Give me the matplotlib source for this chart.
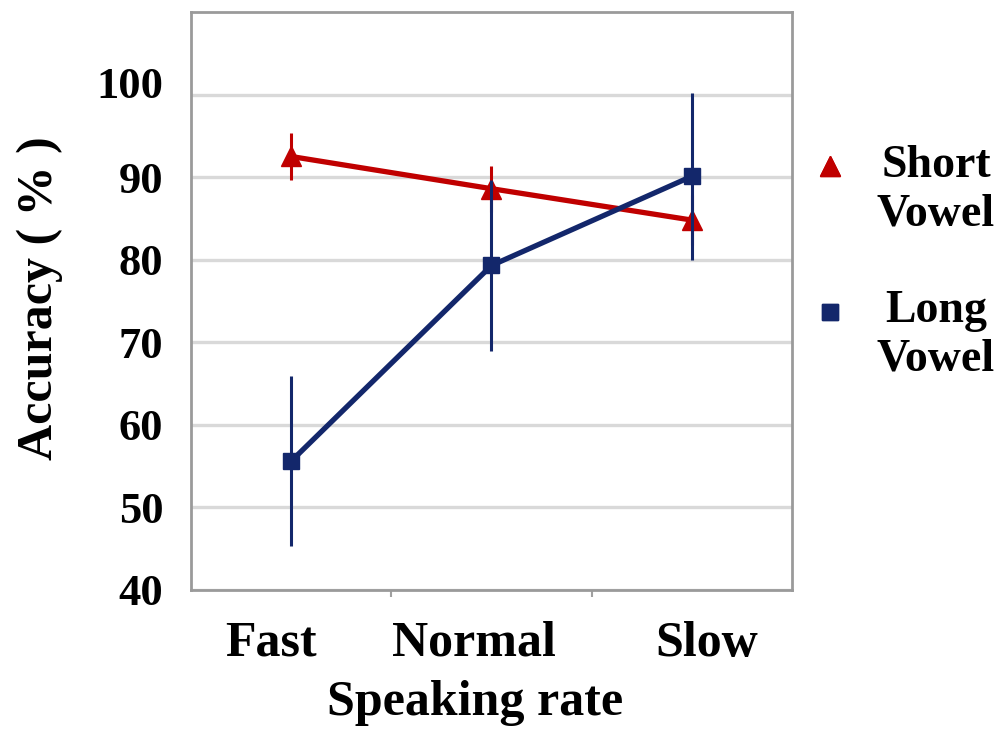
import matplotlib
matplotlib.use('Agg')
import matplotlib.pyplot as plt
from matplotlib.lines import Line2D
from matplotlib.transforms import ScaledTranslation

# data
rates = ['Fast', 'Normal', 'Slow']
short_mean = [92.5, 88.6, 84.8]
short_err = [2.8, 2.8, 3.0]
long_mean = [55.6, 79.3, 90.1]
long_err = [10.3, 10.3, 10.1]
yticks = [40, 50, 60, 70, 80, 90, 100]
legend_labels = ['Short\nVowel', 'Long\nVowel']

red = '#C00000'
navy = '#13276B'
serif = ['Liberation Serif', 'DejaVu Serif']

plt.rcParams['font.family'] = serif
plt.rcParams['font.weight'] = 'bold'

fig = plt.figure(figsize=(10.03, 7.31), dpi=100)
ax = fig.add_axes([0.1904, 0.1929, 0.5992, 0.7907])

x = [i + 0.5 for i in range(len(rates))]

ax.errorbar(x, short_mean, yerr=short_err, color=red, lw=3.8, marker='^',
            ms=14, elinewidth=2.2, capsize=0, zorder=3)
ax.errorbar(x, long_mean, yerr=long_err, color=navy, lw=3.8, marker='s',
            ms=12, elinewidth=2.2, capsize=0, zorder=4)

ax.set_xlim(0, 3)
ax.set_ylim(40, 110)
ax.set_yticks(yticks)
ax.set_yticklabels([str(v) for v in yticks])
ax.set_xticks(x)
ax.set_xticklabels(rates)
ax.set_xticks([1, 2], minor=True)
ax.tick_params(axis='x', which='major', length=0, pad=22, labelsize=36)
ax.tick_params(axis='x', which='minor', length=5, width=1.5, color='#A0A0A0')
ax.tick_params(axis='y', length=0, pad=20, labelsize=32)

# the labels in the original sit a little off their ticks
for lab, dx in zip(ax.get_xticklabels(), [-20, -18, 15]):
    lab.set_transform(lab.get_transform() + ScaledTranslation(dx / 100, 0, fig.dpi_scale_trans))
ylabs = ax.get_yticklabels()
ylabs[-1].set_transform(ylabs[-1].get_transform() + ScaledTranslation(0, 0.12, fig.dpi_scale_trans))

ax.grid(axis='y', color='#D9D9D9', lw=2.4, zorder=0)
ax.set_axisbelow(True)
for s in ax.spines.values():
    s.set_color('#9A9A9A')
    s.set_linewidth(2.0)

ax.set_xlabel('Speaking rate', fontsize=36, fontweight='bold')
ax.xaxis.set_label_coords(0.4725, -0.155)
ax.set_ylabel('Accuracy ( % )', fontsize=36, fontweight='bold')
ax.yaxis.set_label_coords(-0.213, 0.505)

# legend: marker beside the first line of a centred two-line label
handles = [Line2D([], [], color=red, marker='^', ms=14, lw=0),
           Line2D([], [], color=navy, marker='s', ms=12, lw=0)]
marker_y = [1 - 167 / 731, 1 - 313 / 731]
text_top = [1 - 145 / 731, 1 - 290 / 731]
for h, lab, my, ty in zip(handles, legend_labels, marker_y, text_top):
    lg = fig.legend([h], [''], loc='center', bbox_to_anchor=(830 / 1003, my),
                    frameon=False, handlelength=0.8, handletextpad=0,
                    borderpad=0, borderaxespad=0)
    fig.add_artist(lg)
    fig.text(936 / 1003, ty, lab, ha='center', va='top', ma='center',
             fontsize=33, fontweight='bold', linespacing=1.2)

fig.savefig('out.png', dpi=100)
